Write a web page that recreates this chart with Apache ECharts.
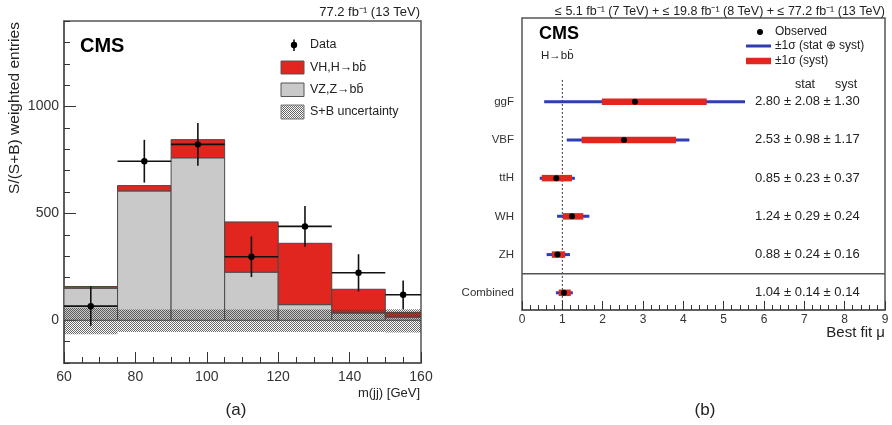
<!DOCTYPE html>
<html>
<head>
<meta charset="utf-8">
<script src="https://cdn.jsdelivr.net/npm/echarts@6/dist/echarts.min.js"></script>
<style>
  html, body { margin: 0; padding: 0; background: #fff; }
  #chart { width: 892px; height: 425px; }
</style>
</head>
<body>
<div id="chart"></div>
<script>
// ---------- (a) dijet mass distribution, S/(S+B) weighted ----------
const binEdges   = [60, 75, 90, 105, 120, 135, 150, 160];
const vzBkg      = [150, 605, 760, 225, 73, 34, 15];     // VZ, Z->bb
const vhSignal   = [8, 25, 85, 235, 287, 111, 22];       // VH, H->bb
const sbUncUp    = [58, 50, 50, 50, 50, 50, 52];         // S+B uncertainty band
const sbUncDown  = [66, 55, 55, 55, 55, 55, 57];
const dataX      = [67.5, 82.5, 97.5, 112.5, 127.5, 142.5, 155];
const dataY      = [66, 744, 823, 297, 439, 222, 119];
const dataErr    = [92, 100, 100, 95, 95, 87, 67];
const massTicks  = [60, 80, 100, 120, 140, 160];
const entryTicks = [0, 500, 1000];

// ---------- (b) best-fit signal strength per channel ----------
const channels = ['ggF', 'VBF', 'ttH', 'WH', 'ZH', 'Combined'];
const muBest   = [2.80, 2.53, 0.85, 1.24, 0.88, 1.04];
const muStat   = [2.08, 0.98, 0.23, 0.29, 0.24, 0.14];
const muSyst   = [1.30, 1.17, 0.37, 0.24, 0.16, 0.14];
const totLo    = [0.55, 1.11, 0.44, 0.87, 0.61, 0.84];   // ±1σ (stat ⊕ syst)
const totHi    = [5.53, 4.15, 1.31, 1.67, 1.19, 1.26];
const systLo   = [1.98, 1.48, 0.49, 1.01, 0.74, 0.91];   // ±1σ (syst)
const systHi   = [4.58, 3.82, 1.24, 1.52, 1.07, 1.21];
const muTicks  = [0, 1, 2, 3, 4, 5, 6, 7, 8, 9];
const smMu     = 1;

const RED = '#e0261e', GRAY = '#c9c9c9', BLUE = '#2e3db3', INK = '#222', FRAME = '#555';
const FONT = '"Liberation Sans", Arial, Helvetica, sans-serif';

// fine checkered texture for the uncertainty band
const hatchCanvas = document.createElement('canvas');
hatchCanvas.width = 4; hatchCanvas.height = 4;
(function () {
  const ctx = hatchCanvas.getContext('2d');
  ctx.fillStyle = 'rgba(60,60,60,0.78)';
  for (let x = 0; x < 4; x++) for (let y = 0; y < 4; y++) if ((x + y) % 2 === 0) ctx.fillRect(x, y, 1, 1);
})();
const hatch = { image: hatchCanvas, repeat: 'repeat' };

const rowOf = i => channels.length - 1 - i;   // ggF on top, Combined at bottom

const histData = vzBkg.map((b, i) => [binEdges[i], binEdges[i + 1], b, vhSignal[i]]);
const bandData = sbUncUp.map((u, i) => [binEdges[i], binEdges[i + 1], -sbUncDown[i], u]);
const pointData = dataX.map((x, i) => [x, dataY[i], dataErr[i], binEdges[i], binEdges[i + 1]]);
const muData = channels.map((c, i) => [rowOf(i), muBest[i], totLo[i], totHi[i], systLo[i], systHi[i], muStat[i], muSyst[i]]);

const chart = echarts.init(document.getElementById('chart'), null, { renderer: 'canvas' });

const txt = (x, y, text, extra) => ({
  type: 'text', x, y, silent: true,
  style: Object.assign({ text, fill: INK, font: '13px ' + FONT, align: 'left', verticalAlign: 'middle' }, extra || {})
});

chart.setOption({
  animation: false,
  textStyle: { fontFamily: FONT },
  grid: [
    { left: 64, top: 21, width: 357, height: 342, show: true, borderColor: FRAME, borderWidth: 1.5, backgroundColor: 'transparent' },
    { left: 522, top: 18, width: 363, height: 292, show: true, borderColor: FRAME, borderWidth: 1.5, backgroundColor: 'transparent' }
  ],
  xAxis: [
    {
      gridIndex: 0, type: 'value', min: 60, max: 160, interval: 20, position: 'bottom',
      axisLine: { onZero: false, lineStyle: { color: FRAME, width: 1.5 } },
      axisTick: { inside: true, length: 11, lineStyle: { color: '#333' } },
      minorTick: { show: true, splitNumber: 4, length: 6, lineStyle: { color: '#333' } },
      splitLine: { show: false },
      axisLabel: { fontSize: 14, color: '#333', margin: 7, customValues: massTicks }
    },
    {
      gridIndex: 1, type: 'value', min: 0, max: 9, interval: 1, position: 'bottom',
      axisLine: { onZero: false, lineStyle: { color: FRAME, width: 1.5 } },
      axisTick: { inside: true, length: 9, lineStyle: { color: '#333' } },
      minorTick: { show: true, splitNumber: 5, length: 5, lineStyle: { color: '#333' } },
      splitLine: { show: false },
      axisLabel: { fontSize: 12, color: '#333', margin: 4, customValues: muTicks }
    }
  ],
  yAxis: [
    {
      gridIndex: 0, type: 'value', min: -200, max: 1400, interval: 100, position: 'left',
      axisLine: { show: true, onZero: false, lineStyle: { color: FRAME, width: 1.5 } },
      axisTick: { inside: true, length: 6, lineStyle: { color: '#333' } },
      axisLabel: { show: false }, splitLine: { show: false }
    },
    {
      gridIndex: 0, type: 'value', min: -200, max: 1400, position: 'left', offset: 0,
      axisLine: { show: false, onZero: false },
      axisTick: { show: true, inside: true, length: 12, customValues: entryTicks, lineStyle: { color: '#333' } },
      axisLabel: { fontSize: 14, color: '#333', margin: 5, customValues: entryTicks, formatter: v => String(v) },
      splitLine: { show: false }
    },
    {
      gridIndex: 1, type: 'value', min: -0.45, max: 7.19, position: 'left',
      axisLine: { show: false, onZero: false }, axisTick: { show: false }, splitLine: { show: false },
      axisLabel: {
        fontSize: 11.5, color: '#333', margin: 8,
        customValues: channels.map((c, i) => rowOf(i)),
        formatter: v => channels[channels.length - 1 - Math.round(v)]
      }
    }
  ],
  series: [
    // stacked histogram: VZ background with VH signal on top
    {
      type: 'custom', xAxisIndex: 0, yAxisIndex: 0, clip: true, data: histData,
      renderItem(params, api) {
        const x0 = api.value(0), x1 = api.value(1), b = api.value(2), s = api.value(3);
        const p0 = api.coord([x0, 0]), pb = api.coord([x1, b]), ps = api.coord([x1, b + s]);
        return {
          type: 'group', children: [
            { type: 'rect', shape: { x: p0[0], y: pb[1], width: pb[0] - p0[0], height: p0[1] - pb[1] },
              style: { fill: GRAY, stroke: '#4a4a4a', lineWidth: 1 } },
            { type: 'rect', shape: { x: p0[0], y: ps[1], width: ps[0] - p0[0], height: pb[1] - ps[1] },
              style: { fill: RED, stroke: '#4a4a4a', lineWidth: 1 } }
          ]
        };
      }
    },
    // S+B uncertainty band around zero
    {
      type: 'custom', xAxisIndex: 0, yAxisIndex: 0, clip: true, data: bandData,
      renderItem(params, api) {
        const lo = api.coord([api.value(0), api.value(2)]), hi = api.coord([api.value(1), api.value(3)]);
        return { type: 'rect', shape: { x: lo[0], y: hi[1], width: hi[0] - lo[0], height: lo[1] - hi[1] },
                 style: { fill: hatch } };
      }
    },
    // data points with error bars
    {
      type: 'custom', xAxisIndex: 0, yAxisIndex: 0, clip: true, data: pointData,
      renderItem(params, api) {
        const x = api.value(0), y = api.value(1), e = api.value(2);
        const c = api.coord([x, y]), t = api.coord([x, y + e]), b = api.coord([x, y - e]);
        const l = api.coord([api.value(3), y]), r = api.coord([api.value(4), y]);
        const ls = { stroke: '#111', lineWidth: 1.6 };
        return {
          type: 'group', children: [
            { type: 'line', shape: { x1: l[0], y1: c[1], x2: r[0], y2: c[1] }, style: ls },
            { type: 'line', shape: { x1: c[0], y1: t[1], x2: c[0], y2: b[1] }, style: ls },
            { type: 'circle', shape: { cx: c[0], cy: c[1], r: 3.2 }, style: { fill: '#000' } }
          ]
        };
      }
    },
    // SM reference line and separator above the combined result
    {
      type: 'custom', xAxisIndex: 1, yAxisIndex: 2, clip: true, data: [[smMu]],
      renderItem(params, api) {
        const top = api.coord([smMu, channels.length - 1 + 0.57]);
        const bot = api.coord([smMu, -0.45]);
        const sepL = api.coord([0, 0.5]), sepR = api.coord([9, 0.5]);
        return {
          type: 'group', children: [
            { type: 'line', shape: { x1: top[0], y1: top[1], x2: bot[0], y2: bot[1] },
              style: { stroke: '#333', lineWidth: 1, lineDash: [2, 2] } },
            { type: 'line', shape: { x1: sepL[0], y1: sepL[1], x2: sepR[0], y2: sepR[1] },
              style: { stroke: FRAME, lineWidth: 1.5 } }
          ]
        };
      }
    },
    // best-fit mu per channel with total and systematic intervals
    {
      type: 'custom', xAxisIndex: 1, yAxisIndex: 2, clip: false, data: muData,
      renderItem(params, api) {
        const row = api.value(0), mu = api.value(1);
        const c = api.coord([mu, row]);
        const tl = api.coord([api.value(2), row]), th = api.coord([api.value(3), row]);
        const sl = api.coord([api.value(4), row]), sh = api.coord([api.value(5), row]);
        const label = mu.toFixed(2) + ' ± ' + api.value(6).toFixed(2) + ' ± ' + api.value(7).toFixed(2);
        return {
          type: 'group', children: [
            { type: 'line', shape: { x1: tl[0], y1: c[1], x2: th[0], y2: c[1] }, style: { stroke: BLUE, lineWidth: 3 } },
            { type: 'line', shape: { x1: sl[0], y1: c[1], x2: sh[0], y2: c[1] }, style: { stroke: RED, lineWidth: 6.5 } },
            { type: 'circle', shape: { cx: c[0], cy: c[1], r: 3 }, style: { fill: '#000' } },
            { type: 'text', x: 755, y: c[1], style: { text: label, font: '13px ' + FONT, fill: INK, align: 'left', verticalAlign: 'middle' } }
          ]
        };
      }
    }
  ],
  graphic: [
    // panel (a) annotations
    txt(420, 12, '77.2 fb⁻¹ (13 TeV)', { align: 'right', font: '13px ' + FONT }),
    txt(80, 46, 'CMS', { font: 'bold 20px ' + FONT, fill: '#000' }),
    { type: 'line', shape: { x1: 294, y1: 39.5, x2: 294, y2: 51 }, style: { stroke: '#111', lineWidth: 1.6 } },
    { type: 'circle', shape: { cx: 294, cy: 45, r: 3.2 }, style: { fill: '#000' } },
    txt(310, 45, 'Data', { font: '12.5px ' + FONT }),
    { type: 'rect', shape: { x: 281, y: 61, width: 23, height: 13 }, style: { fill: RED, stroke: '#555', lineWidth: 1 } },
    txt(310, 67.5, 'VH,H→bb̄', { font: '12.5px ' + FONT }),
    { type: 'rect', shape: { x: 281, y: 83, width: 23, height: 13.5 }, style: { fill: GRAY, stroke: '#555', lineWidth: 1 } },
    txt(310, 90, 'VZ,Z→bb̄', { font: '12.5px ' + FONT }),
    { type: 'rect', shape: { x: 281, y: 105, width: 23, height: 14 }, style: { fill: hatch, stroke: '#777', lineWidth: 1 } },
    txt(310, 112, 'S+B uncertainty', { font: '12.5px ' + FONT }),
    {
      type: 'text', x: 15, y: 108, rotation: Math.PI / 2, silent: true,
      style: { text: 'S/(S+B) weighted entries', font: '15.5px ' + FONT, fill: INK, align: 'center', verticalAlign: 'middle' }
    },
    txt(420, 393, 'm(jj) [GeV]', { align: 'right', font: '13px ' + FONT }),
    txt(236, 410, '(a)', { align: 'center', font: '17px ' + FONT }),

    // panel (b) annotations
    txt(885, 12, '≤ 5.1 fb⁻¹ (7 TeV) + ≤ 19.8 fb⁻¹ (8 TeV) + ≤ 77.2 fb⁻¹ (13 TeV)', { align: 'right', font: '12.5px ' + FONT }),
    txt(539, 34, 'CMS', { font: 'bold 18px ' + FONT, fill: '#000' }),
    txt(541, 56, 'H→bb̄', { font: '11.5px ' + FONT }),
    { type: 'circle', shape: { cx: 760, cy: 32, r: 3 }, style: { fill: '#000' } },
    txt(775, 32, 'Observed', { font: '12px ' + FONT }),
    { type: 'line', shape: { x1: 746, y1: 46, x2: 771, y2: 46 }, style: { stroke: BLUE, lineWidth: 3 } },
    txt(775, 46, '±1σ (stat ⊕ syst)', { font: '12px ' + FONT }),
    { type: 'line', shape: { x1: 746, y1: 61, x2: 771, y2: 61 }, style: { stroke: RED, lineWidth: 6.5 } },
    txt(775, 61, '±1σ (syst)', { font: '12px ' + FONT }),
    txt(805, 85, 'stat', { align: 'center', font: '12.5px ' + FONT }),
    txt(846, 85, 'syst', { align: 'center', font: '12.5px ' + FONT }),
    txt(885, 333, 'Best fit μ', { align: 'right', font: '15px ' + FONT }),
    txt(705, 410, '(b)', { align: 'center', font: '17px ' + FONT })
  ]
});
</script>
</body>
</html>
